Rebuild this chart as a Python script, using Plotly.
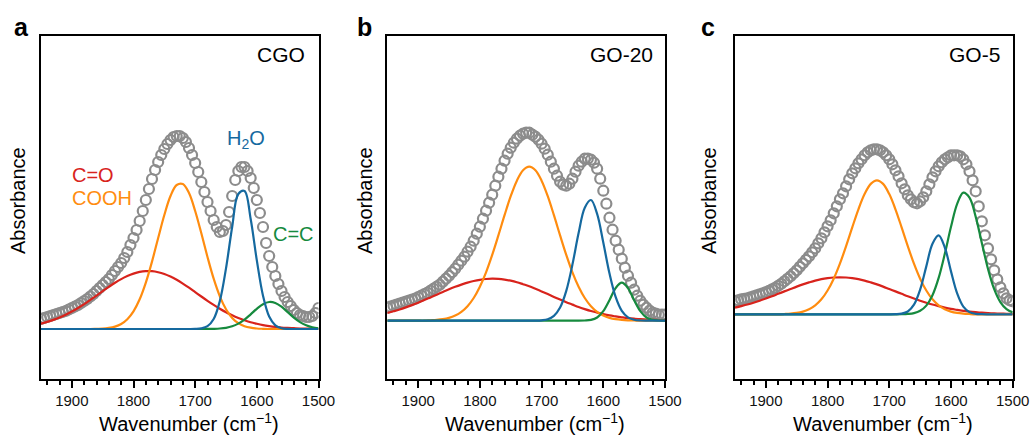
import plotly.graph_objects as go

# ---------------- data ----------------
wn_fit = list(range(1950, 1499, -10))   # fitted component curves, 1950 -> 1500
wn_data = list(range(1950, 1499, -5))   # measured points, 1950 -> 1500

panel_letters = ["a", "b", "c"]
sample_names = ["CGO", "GO-20", "GO-5"]
component_names = ["C=O", "COOH", "H2O", "C=C"]

# measured absorbance (open circles)
data_cgo = [0.10, 0.11, 0.12, 0.13, 0.14, 0.15, 0.16, 0.17, 0.18, 0.195, 0.21, 0.225, 0.24, 0.26, 0.28, 0.30,
            0.325, 0.35, 0.38, 0.41, 0.44, 0.47, 0.50, 0.54, 0.58, 0.62, 0.66, 0.71, 0.77, 0.84, 0.91, 0.99,
            1.08, 1.18, 1.29, 1.40, 1.50, 1.59, 1.67, 1.74, 1.80, 1.85, 1.89, 1.92, 1.93, 1.93, 1.91, 1.87,
            1.81, 1.74, 1.66, 1.57, 1.47, 1.37, 1.27, 1.18, 1.09, 1.02, 0.97, 0.98, 1.04, 1.17, 1.33, 1.49,
            1.58, 1.62, 1.62, 1.58, 1.51, 1.41, 1.29, 1.16, 1.02, 0.86, 0.73, 0.62, 0.53, 0.45, 0.38, 0.32,
            0.27, 0.23, 0.19, 0.16, 0.14, 0.13, 0.12, 0.12, 0.13, 0.16, 0.21]
data_go20 = [0.13, 0.14, 0.15, 0.16, 0.17, 0.18, 0.19, 0.20, 0.21, 0.22, 0.235, 0.25, 0.265, 0.28, 0.30, 0.32,
             0.34, 0.36, 0.39, 0.42, 0.45, 0.485, 0.52, 0.56, 0.60, 0.64, 0.69, 0.74, 0.80, 0.87, 0.94, 1.02,
             1.10, 1.18, 1.26, 1.35, 1.44, 1.52, 1.60, 1.67, 1.73, 1.78, 1.82, 1.85, 1.87, 1.88, 1.88, 1.86,
             1.84, 1.81, 1.77, 1.72, 1.66, 1.59, 1.52, 1.45, 1.39, 1.36, 1.35, 1.37, 1.42, 1.49, 1.55, 1.59,
             1.62, 1.62, 1.61, 1.58, 1.52, 1.42, 1.30, 1.17, 1.03, 0.91, 0.80, 0.71, 0.62, 0.53, 0.45, 0.38,
             0.31, 0.25, 0.20, 0.16, 0.13, 0.10, 0.08, 0.07, 0.06, 0.06, 0.06]
data_go5 = [0.13, 0.14, 0.15, 0.155, 0.16, 0.17, 0.18, 0.19, 0.20, 0.21, 0.22, 0.235, 0.25, 0.265, 0.285, 0.305,
            0.33, 0.355, 0.38, 0.41, 0.44, 0.475, 0.51, 0.545, 0.58, 0.62, 0.66, 0.71, 0.76, 0.82, 0.88, 0.94,
            1.01, 1.08, 1.15, 1.21, 1.28, 1.35, 1.41, 1.46, 1.51, 1.55, 1.59, 1.62, 1.64, 1.65, 1.65, 1.64,
            1.62, 1.59, 1.55, 1.50, 1.44, 1.38, 1.31, 1.25, 1.19, 1.15, 1.12, 1.11, 1.13, 1.17, 1.23, 1.30,
            1.37, 1.43, 1.48, 1.52, 1.55, 1.57, 1.59, 1.59, 1.59, 1.58, 1.55, 1.50, 1.43, 1.34, 1.23, 1.08,
            0.93, 0.79, 0.66, 0.55, 0.44, 0.35, 0.27, 0.21, 0.16, 0.14, 0.13]

# fitted components (1950 -> 1500, every 10 cm-1)
co_cgo = [0.054, 0.071, 0.091, 0.115, 0.143, 0.175, 0.210, 0.249, 0.291, 0.334, 0.378, 0.421, 0.462, 0.499,
          0.530, 0.554, 0.571, 0.579, 0.578, 0.568, 0.550, 0.524, 0.492, 0.454, 0.413, 0.369, 0.325, 0.282,
          0.241, 0.203, 0.168, 0.137, 0.110, 0.087, 0.067, 0.052, 0.039, 0.029, 0.021, 0.015, 0.011, 0.008,
          0.005, 0.004, 0.003, 0.002]
cooh_cgo = [0, 0, 0, 0, 0, 0, 0, 0, 0,
            0.002, 0.004, 0.011, 0.024, 0.050, 0.098, 0.177, 0.297, 0.464, 0.674, 0.910, 1.140, 1.330, 1.440,
            1.450, 1.360, 1.180, 0.957, 0.720, 0.503, 0.327, 0.198, 0.111, 0.058, 0.028, 0.013, 0.005, 0.002,
            0, 0, 0, 0, 0, 0, 0, 0, 0]
h2o_cgo = [0, 0, 0, 0, 0, 0, 0, 0, 0, 0, 0, 0, 0, 0, 0, 0, 0, 0, 0, 0, 0, 0, 0, 0, 0,
           0.001, 0.006, 0.028, 0.100, 0.279, 0.606, 1.020, 1.350, 1.380, 1.100, 0.686, 0.333, 0.125, 0.037,
           0.008, 0.001, 0, 0, 0, 0, 0]
cc_cgo = [0, 0, 0, 0, 0, 0, 0, 0, 0, 0, 0, 0, 0, 0, 0, 0, 0, 0, 0, 0, 0, 0, 0, 0, 0, 0, 0,
          0.001, 0.002, 0.005, 0.012, 0.027, 0.054, 0.094, 0.147, 0.202, 0.248, 0.270, 0.260, 0.223, 0.169,
          0.114, 0.069, 0.037, 0.017, 0.007]

co_go20 = [0.077, 0.094, 0.112, 0.133, 0.156, 0.180, 0.206, 0.233, 0.260, 0.287, 0.314, 0.339, 0.361, 0.381,
           0.397, 0.409, 0.417, 0.420, 0.418, 0.411, 0.400, 0.385, 0.365, 0.344, 0.319, 0.293, 0.266, 0.238,
           0.211, 0.185, 0.161, 0.137, 0.116, 0.097, 0.081, 0.066, 0.053, 0.043, 0.034, 0.026, 0.020, 0.015,
           0.012, 0.009, 0.007, 0.005]
cooh_go20 = [0, 0, 0, 0, 0, 0, 0,
             0.004, 0.008, 0.015, 0.028, 0.051, 0.088, 0.145, 0.227, 0.340, 0.484, 0.658, 0.853, 1.055, 1.245,
             1.400, 1.504, 1.540, 1.504, 1.400, 1.245, 1.055, 0.853, 0.658, 0.484, 0.340, 0.227, 0.145, 0.088,
             0.051, 0.028, 0.015, 0.008, 0.004, 0.002, 0, 0, 0, 0, 0]
h2o_go20 = [0, 0, 0, 0, 0, 0, 0, 0, 0, 0, 0, 0, 0, 0, 0, 0, 0, 0, 0, 0, 0, 0, 0, 0,
            0.001, 0.004, 0.014, 0.048, 0.131, 0.298, 0.561, 0.876, 1.130, 1.207, 1.068, 0.782, 0.474, 0.238,
            0.099, 0.034, 0.010, 0.002, 0, 0, 0, 0]
cc_go20 = [0, 0, 0, 0, 0, 0, 0, 0, 0, 0, 0, 0, 0, 0, 0, 0, 0, 0, 0, 0, 0, 0, 0, 0, 0, 0, 0, 0, 0, 0, 0, 0,
           0.002, 0.008, 0.032, 0.095, 0.205, 0.326, 0.380, 0.326, 0.205, 0.095, 0.032, 0.008, 0.002, 0]

co_go5 = [0.067, 0.082, 0.098, 0.116, 0.136, 0.158, 0.181, 0.205, 0.229, 0.253, 0.277, 0.299, 0.319, 0.337,
          0.351, 0.361, 0.368, 0.370, 0.368, 0.361, 0.351, 0.337, 0.319, 0.299, 0.277, 0.253, 0.229, 0.205,
          0.181, 0.158, 0.136, 0.116, 0.098, 0.082, 0.067, 0.054, 0.044, 0.035, 0.027, 0.021, 0.016, 0.012,
          0.009, 0.007, 0.005, 0.004]
cooh_go5 = [0, 0, 0, 0, 0, 0, 0, 0,
            0.003, 0.007, 0.014, 0.027, 0.051, 0.090, 0.150, 0.238, 0.356, 0.506, 0.682, 0.869, 1.050, 1.202,
            1.304, 1.340, 1.304, 1.202, 1.050, 0.869, 0.682, 0.506, 0.356, 0.238, 0.150, 0.090, 0.051, 0.027,
            0.014, 0.007, 0.003, 0, 0, 0, 0, 0, 0, 0]
h2o_go5 = [0, 0, 0, 0, 0, 0, 0, 0, 0, 0, 0, 0, 0, 0, 0, 0, 0, 0, 0, 0, 0, 0, 0, 0, 0, 0,
           0.001, 0.006, 0.028, 0.096, 0.246, 0.479, 0.706, 0.789, 0.668, 0.429, 0.209, 0.077, 0.022, 0.005,
           0.001, 0, 0, 0, 0, 0]
cc_go5 = [0, 0, 0, 0, 0, 0, 0, 0, 0, 0, 0, 0, 0, 0, 0, 0, 0, 0, 0, 0, 0, 0, 0, 0, 0, 0, 0,
          0.001, 0.004, 0.012, 0.035, 0.087, 0.191, 0.364, 0.605, 0.875, 1.105, 1.217, 1.167, 0.977, 0.713,
          0.453, 0.251, 0.122, 0.051, 0.019]

measured = [data_cgo, data_go20, data_go5]
components = [
    [co_cgo, cooh_cgo, h2o_cgo, cc_cgo],
    [co_go20, cooh_go20, h2o_go20, cc_go20],
    [co_go5, cooh_go5, h2o_go5, cc_go5],
]
for s in measured:
    assert len(s) == len(wn_data), len(s)
for grp in components:
    for s in grp:
        assert len(s) == len(wn_fit), len(s)

# ---------------- styling ----------------
REF_W, H = 1033, 436      # coordinate system used for placement
FIG_W = 1050              # rendered width (the capture is squeezed back to 1033)
FONT = "Liberation Sans, Arial, Helvetica, sans-serif"
comp_colors = ["#d8231c", "#ff8c0f", "#15699f", "#168a3e"]
circle_color = "#8c8c8c"
draw_order = [0, 1, 3, 2]  # red, orange, green, blue on top

panel_px = [(41.0, 318.5), (387.3, 665.0), (735.0, 1012.7)]
top_px, bot_px = 36.0, 379.0
baseline_px = [329.0, 320.7, 314.3]
px_per_unit = 100.0

fig = go.Figure()

for i in range(3):
    xa = "x" if i == 0 else f"x{i+1}"
    ya = "y" if i == 0 else f"y{i+1}"
    fig.add_trace(go.Scatter(
        x=wn_data, y=measured[i], mode="markers", xaxis=xa, yaxis=ya,
        marker=dict(symbol="circle-open", size=10, color=circle_color,
                    line=dict(width=2.2, color=circle_color)),
        showlegend=False, hoverinfo="skip"))
    for k in draw_order:
        fig.add_trace(go.Scatter(
            x=wn_fit, y=components[i][k], mode="lines", xaxis=xa, yaxis=ya,
            line=dict(color=comp_colors[k], width=2.2, shape="spline", smoothing=1.0),
            name=component_names[k], showlegend=False, hoverinfo="skip"))

layout = dict(
    width=FIG_W, height=H, autosize=False,
    margin=dict(l=0, r=0, t=0, b=0),
    paper_bgcolor="white", plot_bgcolor="white",
    font=dict(family=FONT, color="#111111"),
    showlegend=False,
)
ydom = [(H - bot_px) / H, (H - top_px) / H]
for i in range(3):
    xl, xr = panel_px[i]
    base = baseline_px[i]
    ymin = (base - bot_px) / px_per_unit
    ymax = (base - top_px) / px_per_unit
    sfx = "" if i == 0 else str(i + 1)
    layout["xaxis" + sfx] = dict(
        domain=[xl / REF_W, xr / REF_W], range=[1950, 1500], anchor="y" + sfx,
        showline=True, linecolor="black", linewidth=2, mirror=True,
        ticks="outside", ticklen=7, tickwidth=1.5, tickcolor="black",
        tick0=1500, dtick=100,
        minor=dict(ticks="outside", ticklen=4, tickwidth=1.5, tickcolor="black", tick0=1500, dtick=20),
        tickfont=dict(size=15, family=FONT, color="#111111"),
        showgrid=False, zeroline=False,
    )
    layout["yaxis" + sfx] = dict(
        domain=ydom, range=[ymin, ymax], anchor="x" + sfx,
        showline=True, linecolor="black", linewidth=2, mirror=True,
        ticks="", showticklabels=False, showgrid=False, zeroline=False,
    )
fig.update_layout(**layout)

def px_x(px):
    return px / REF_W

def px_y(py):
    return (H - py) / H

ann = []
letter_x = [12, 355, 699]
absorb_x = [18, 365, 709]
name_right = [307, 655, 1002]

def add_text(text, x, y, size, color="black", xanchor="center", angle=0):
    ann.append(dict(text=text, x=px_x(x), y=px_y(y), xref="paper", yref="paper",
                    xanchor=xanchor, yanchor="middle", showarrow=False, textangle=angle,
                    font=dict(size=size, family=FONT, color=color)))

for i in range(3):
    xl, xr = panel_px[i]
    add_text(f"<b>{panel_letters[i]}</b>", letter_x[i], 27, 25, xanchor="left")
    add_text(sample_names[i], name_right[i], 55, 21, xanchor="right")
    add_text("Absorbance", absorb_x[i], 201, 20, angle=-90)
    add_text("Wavenumber (cm<sup>−1</sup>)", (xl + xr) / 2 + 9, 422, 20)

label_text = ["C=O", "COOH", "H<sub>2</sub>O", "C=C"]
label_pos = [(70, 175.5), (70, 197.5), (225, 139), (271, 233.5)]
for k in range(4):
    add_text(label_text[k], label_pos[k][0], label_pos[k][1], 20, color=comp_colors[k], xanchor="left")

fig.update_layout(annotations=ann)

page_fix = (
    "document.documentElement.style.margin='0';"
    "document.documentElement.style.padding='0';"
    "document.documentElement.style.overflow='hidden';"
    "document.body.style.margin='0';"
    "document.body.style.padding='0';"
    "document.body.style.overflow='hidden';"
)
fig.write_html("out.html", config={"displayModeBar": False}, post_script=page_fix)
